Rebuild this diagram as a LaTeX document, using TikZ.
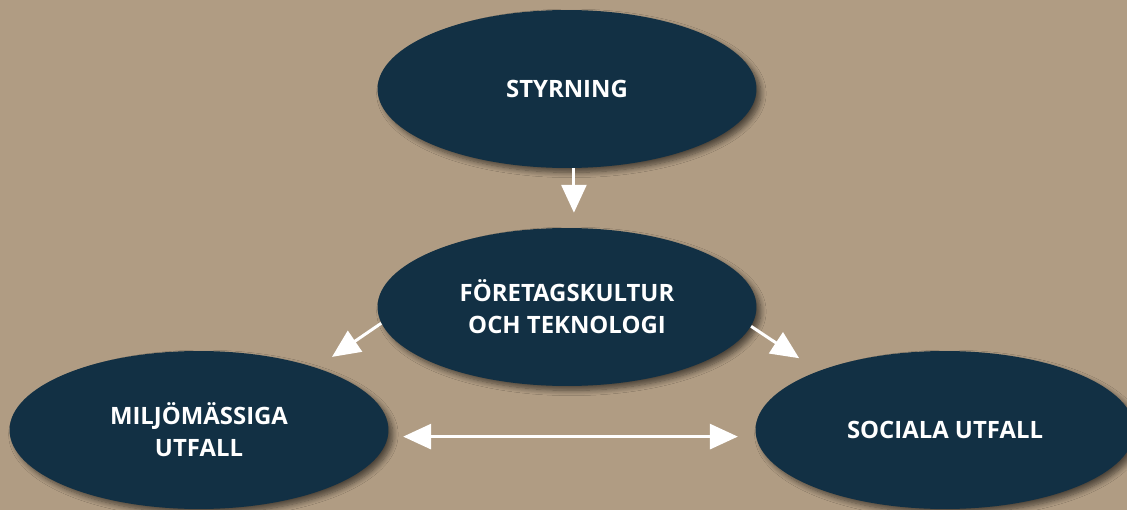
\documentclass[tikz,border=0pt]{standalone}
\usepackage{fontspec}
\setmainfont{Open Sans}
\usetikzlibrary{shapes.geometric,arrows.meta,shadows.blur}
\definecolor{tanbg}{RGB}{176,156,131}
\definecolor{navy}{RGB}{18,48,68}
\begin{document}
\begin{tikzpicture}[x=0.02cm,y=-0.02cm,
		bigtri/.tip={Triangle[width=14.2pt,length=15.9pt]},
		blob/.style={ellipse,fill=navy,minimum width=7.58cm,minimum height=3.16cm,inner sep=0pt,text=white,align=center,font=\fontsize{13.6}{18.1}\selectfont\bfseries,blur shadow={shadow xshift=2.5pt,shadow yshift=-2.5pt,shadow opacity=55,shadow blur steps=8,shadow blur radius=3pt}},
		link/.style={white,line width=1.7pt,-bigtri},
		twoway/.style={white,line width=1.7pt,bigtri-bigtri}]
		\useasboundingbox (0,0) rectangle (1127,510);
		\clip (0,0) rectangle (1127,510);
		\fill[tanbg] (0,0) rectangle (1127,510);
		\node[blob] (styr) at (567,89) {STYRNING};
		\node[blob] (foret) at (567,307) {FÖRETAGSKULTUR\\OCH TEKNOLOGI};
		\node[blob] (milj) at (199,430) {MILJÖMÄSSIGA\\UTFALL};
		\node[blob] (soc) at (945,430) {SOCIALA UTFALL};
		\draw[link,shorten >=0.3cm] (styr.-85) -- (foret.85);
		\draw[link,shorten >=0.38cm] (foret.185) -- (milj.28);
		\draw[link,shorten >=0.46cm] (foret.-6) -- (soc.155);
		\draw[twoway,shorten <=0.3cm,shorten >=0.36cm] (milj.-2) -- (soc.182);
		\end{tikzpicture}
\end{document}
